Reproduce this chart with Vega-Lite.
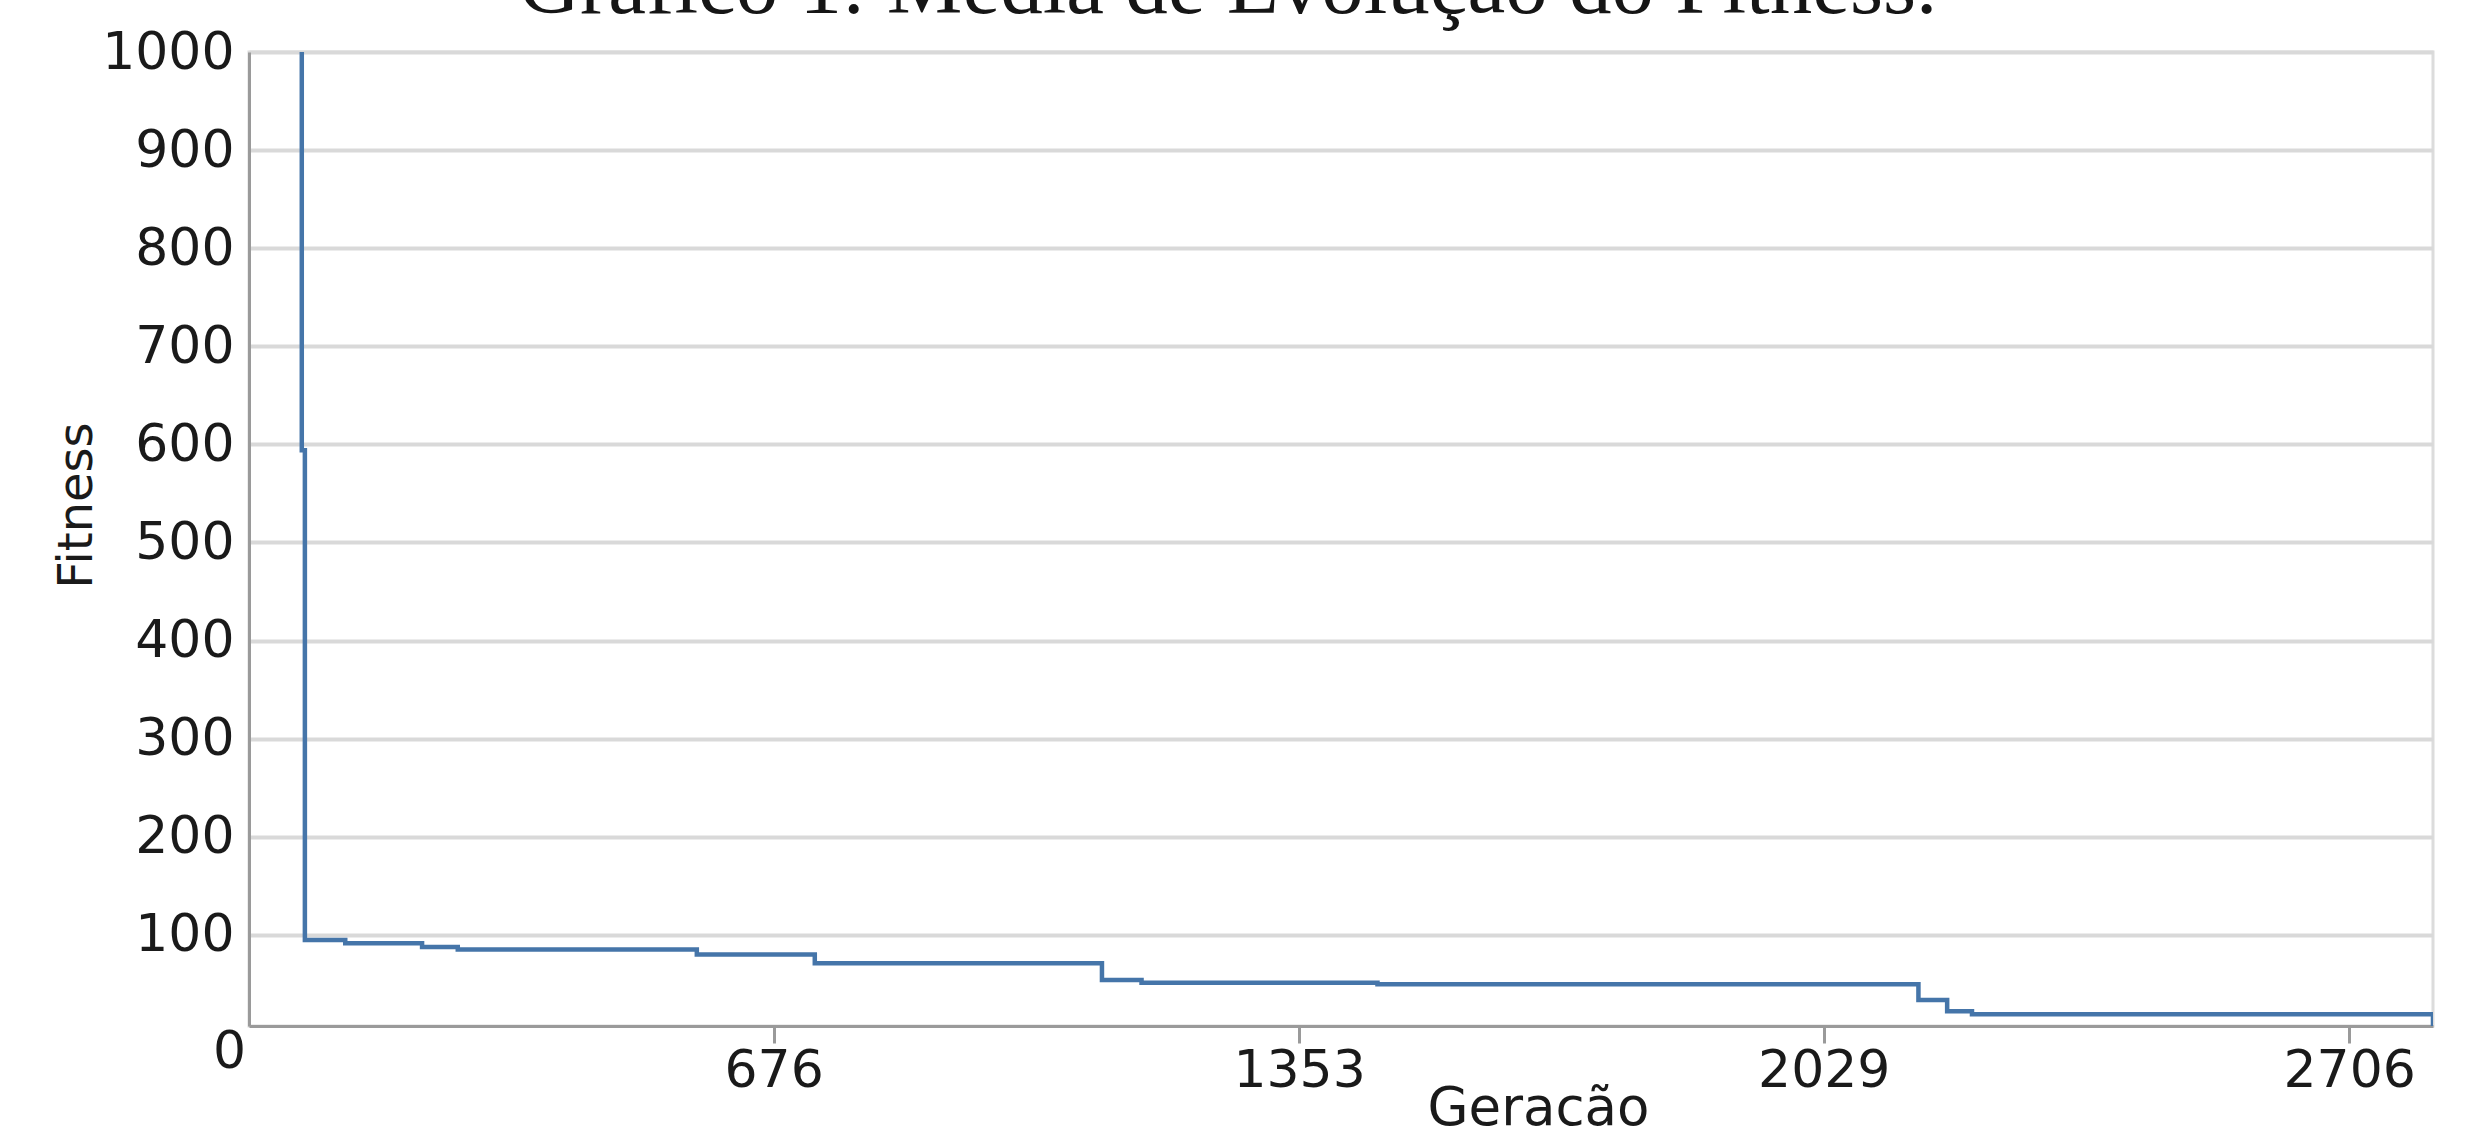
{
  "$schema": "https://vega.github.io/schema/vega-lite/v6.json",
  "width": 2184,
  "height": 974,
  "autosize": {"type": "none"},
  "padding": {"left": 249, "top": 52, "right": 43, "bottom": 103},
  "background": "white",
  "title": {
    "text": "Gráfico 1: Média de Evolução do Fitness.",
    "font": "Liberation Serif",
    "fontSize": 85,
    "fontWeight": "normal",
    "color": "#151515",
    "anchor": "middle",
    "frame": "group",
    "dx": -113,
    "dy": 72,
    "baseline": "alphabetic",
    "offset": 0
  },
  "config": {
    "view": {"stroke": "#dcdcdc", "strokeWidth": 3}
  },
  "data": {
    "values": [
      {"i": 0, "geracao": 68, "fitness": 1000},
      {"i": 1, "geracao": 68, "fitness": 594},
      {"i": 2, "geracao": 72, "fitness": 94.7},
      {"i": 3, "geracao": 124, "fitness": 91.3},
      {"i": 4, "geracao": 223, "fitness": 87.5},
      {"i": 5, "geracao": 269, "fitness": 85},
      {"i": 6, "geracao": 577, "fitness": 80},
      {"i": 7, "geracao": 729, "fitness": 71},
      {"i": 8, "geracao": 1099, "fitness": 54},
      {"i": 9, "geracao": 1150, "fitness": 51},
      {"i": 10, "geracao": 1454, "fitness": 49.5},
      {"i": 11, "geracao": 2151, "fitness": 33.5},
      {"i": 12, "geracao": 2188, "fitness": 22},
      {"i": 13, "geracao": 2220, "fitness": 19},
      {"i": 14, "geracao": 2814, "fitness": 19},
      {"i": 15, "geracao": 2814, "fitness": 7}
    ]
  },
  "mark": {"type": "line", "interpolate": "step-after", "color": "#4575a9", "strokeWidth": 4.5, "clip": true},
  "encoding": {
    "order": {"field": "i", "type": "quantitative"},
    "x": {
      "field": "geracao",
      "type": "quantitative",
      "scale": {"domain": [0, 2814], "nice": false, "zero": false},
      "axis": {
        "title": "Geracão",
        "values": [0, 676, 1353, 2029, 2706],
        "format": "d",
        "grid": false,
        "domainColor": "#9a9a9a",
        "domainWidth": 3,
        "tickColor": "#9a9a9a",
        "tickWidth": 3,
        "tickSize": 17,
        "tickOpacity": {"condition": {"test": "datum.value === 0", "value": 0}, "value": 1},
        "labelFlush": false,
        "labelPadding": {"condition": {"test": "datum.value === 0", "value": -17}, "value": 2},
        "labelOffset": {"condition": {"test": "datum.value === 0", "value": -20}, "value": 0},
        "labelFont": "DejaVu Sans",
        "labelFontSize": 52,
        "labelColor": "#1a1a1a",
        "titleFont": "DejaVu Sans",
        "titleFontSize": 53,
        "titleFontWeight": "normal",
        "titleColor": "#1a1a1a",
        "titleX": 1289,
        "titleY": 98,
        "titleBaseline": "alphabetic",
        "titleAlign": "center"
      }
    },
    "y": {
      "field": "fitness",
      "type": "quantitative",
      "scale": {"domain": [7, 1000], "nice": false, "zero": false},
      "axis": {
        "title": "Fitness",
        "values": [100, 200, 300, 400, 500, 600, 700, 800, 900, 1000],
        "format": "d",
        "grid": true,
        "gridColor": "#d9d9d9",
        "gridWidth": 4,
        "ticks": false,
        "domainColor": "#9a9a9a",
        "domainWidth": 3,
        "labelPadding": 15,
        "labelFont": "DejaVu Sans",
        "labelFontSize": 52,
        "labelColor": "#1a1a1a",
        "titleFont": "DejaVu Sans",
        "titleFontSize": 48,
        "titleFontWeight": "normal",
        "titleColor": "#1a1a1a",
        "titleX": -172,
        "titleY": 453,
        "titleAngle": -90,
        "titleBaseline": "middle",
        "titleAlign": "center"
      }
    }
  }
}
